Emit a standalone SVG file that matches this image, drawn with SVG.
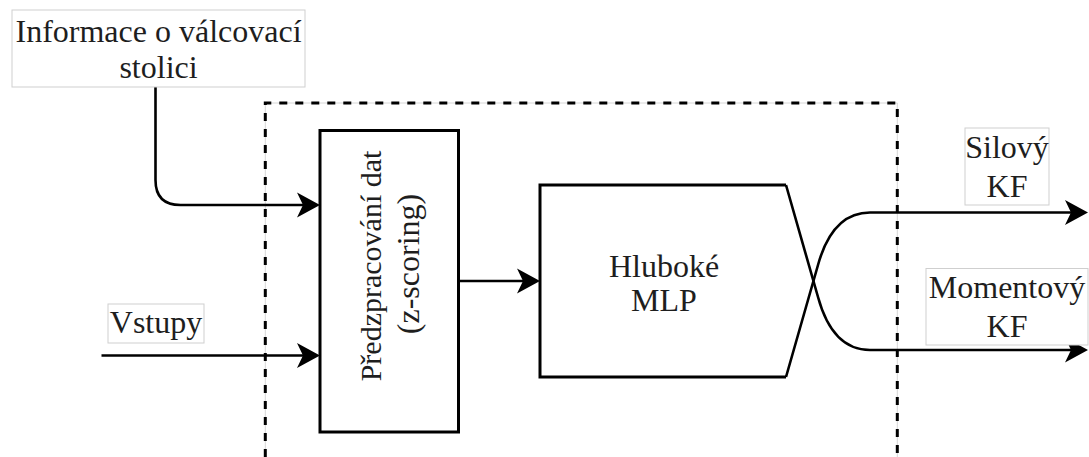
<svg xmlns="http://www.w3.org/2000/svg" width="1089" height="457" viewBox="0 0 1089 457">
  <style>
    .txt { font-family: "Liberation Serif", "Times New Roman", serif; font-size: 32px; fill: #1e1e1e; text-anchor: middle; }
    .box { fill: #ffffff; stroke: #000000; stroke-width: 3; }
    .lbl { fill: #ffffff; stroke: #cfcfcf; stroke-width: 1; }
    .edge { fill: none; stroke: #000000; stroke-width: 2.6; }
    .frame-guide { fill: none; stroke: #d6d6d6; stroke-width: 1; }
    .frame { fill: none; stroke: #000000; stroke-width: 3; stroke-dasharray: 8 8; }
  </style>
  <defs>
    <marker id="arrow" markerUnits="userSpaceOnUse" markerWidth="24" markerHeight="26" refX="6" refY="12.5" orient="auto" overflow="visible">
      <path d="M0,0 L23,12.5 L0,25 L6,12.5 Z" fill="#000000"/>
    </marker>
  </defs>

  <rect width="1089" height="457" fill="#ffffff"/>

  <!-- dashed system boundary, open at the bottom -->
  <g id="boundary">
    <path class="frame-guide" d="M265.3,457 L265.3,103 L897.3,103 L897.3,457"/>
    <path class="frame" d="M265.3,457 L265.3,103 L897.3,103 L897.3,457"/>
  </g>

  <!-- connectors -->
  <g id="connectors">
    <path class="edge" d="M155.5,87 L155.5,180 Q155.5,205 180.5,205 L303,205" marker-end="url(#arrow)"/>
    <path class="edge" d="M101.5,355.5 L303,355.5" marker-end="url(#arrow)"/>
    <path class="edge" d="M458.5,281 L523,281" marker-end="url(#arrow)"/>
    <path class="edge" d="M786,185 L818,297 Q832.5,350 870,350 L1071,350" marker-end="url(#arrow)"/>
    <path class="edge" d="M786,377 L818,265 Q832.5,212.5 870,212.5 L1071,212.5" marker-end="url(#arrow)"/>
  </g>

  <g id="info-label">
    <rect class="lbl" x="12" y="10" width="293" height="77"/>
    <text class="txt" x="158.5" y="41.7">Informace o válcovací</text>
    <text class="txt" x="158.5" y="77.5">stolici</text>
  </g>

  <g id="inputs-label">
    <rect class="lbl" x="108" y="304" width="96" height="39"/>
    <text class="txt" x="156" y="333">Vstupy</text>
  </g>

  <g id="preprocessing">
    <rect class="box" x="320" y="130.5" width="138.5" height="301.5"/>
    <text class="txt" transform="translate(381,266) rotate(-90)" style="font-size:30px">Předzpracování dat</text>
    <text class="txt" transform="translate(419,264) rotate(-90)">(z-scoring)</text>
  </g>

  <g id="mlp">
    <path fill="none" stroke="#000000" stroke-width="3" d="M786,185 L540,185 L540,377 L786,377"/>
    <text class="txt" x="664" y="277">Hluboké</text>
    <text class="txt" x="664" y="311">MLP</text>
  </g>

  <g id="force-label">
    <rect class="lbl" x="965" y="128" width="84" height="77"/>
    <text class="txt" x="1007" y="158">Silový</text>
    <text class="txt" x="1007" y="197">KF</text>
  </g>

  <g id="moment-label">
    <rect class="lbl" x="926" y="268.5" width="162" height="76.5"/>
    <text class="txt" x="1007" y="298">Momentový</text>
    <text class="txt" x="1007" y="337">KF</text>
  </g>
</svg>
